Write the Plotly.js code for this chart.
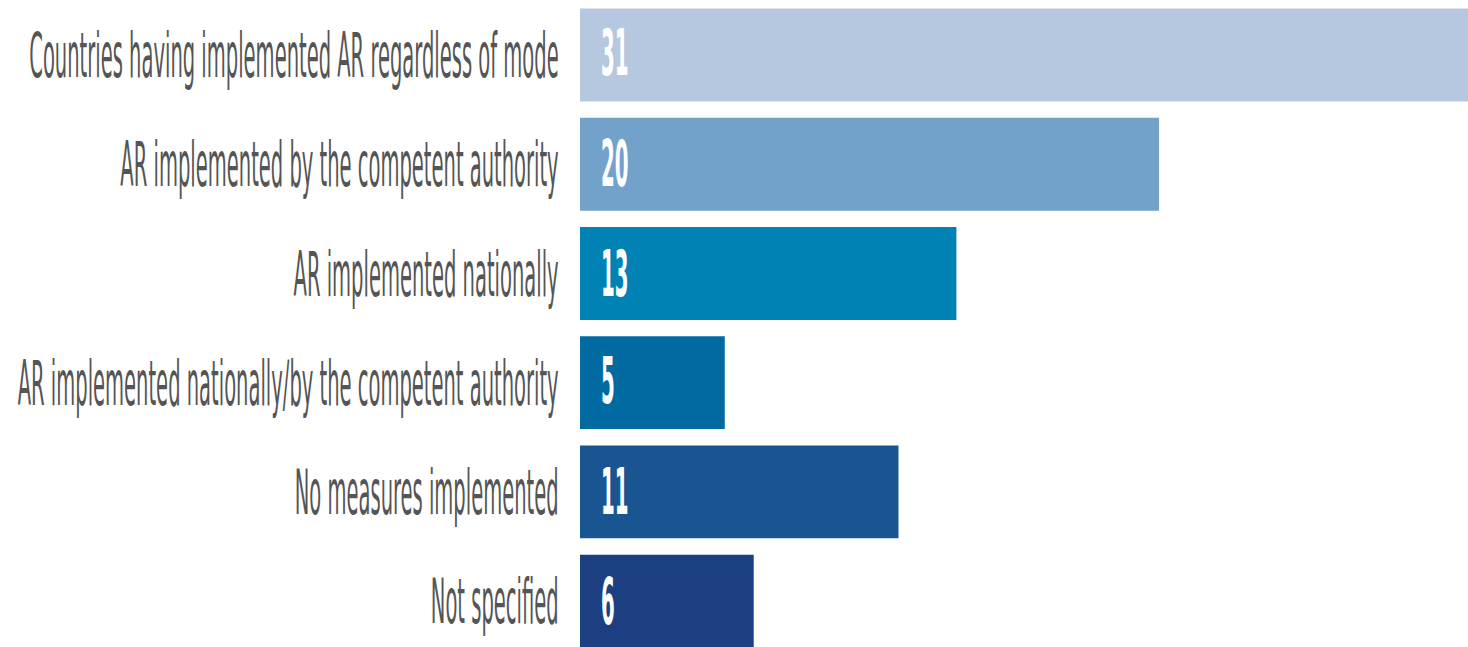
<!DOCTYPE html>
<html>
<head>
<meta charset="utf-8">
<script src="https://cdn.plot.ly/plotly-3.0.1.min.js"></script>
<style>
  html, body { margin: 0; padding: 0; background: #ffffff; overflow: hidden; }
  #wrap { width: 1468px; height: 647px; overflow: hidden; }
  #chart { width: 1468px; height: 223px; transform: scale(1, 2.9013); transform-origin: 0 0; }
</style>
</head>
<body>
<div id="wrap"><div id="chart"></div></div>
<script>
const categories = [
  "Countries having implemented AR regardless of mode",
  "AR implemented by the competent authority",
  "AR implemented nationally",
  "AR implemented nationally/by the competent authority",
  "No measures implemented",
  "Not specified"
];
const values = [31, 20, 13, 5, 11, 6];
const barColors = ["#b6c8e0", "#72a2ca", "#0082b4", "#006aa1", "#195590", "#1b3f80"];

const FONT = "'DejaVu Sans Condensed', 'Liberation Sans Narrow', sans-serif";

const trace = {
  type: "bar",
  orientation: "h",
  y: categories,
  x: values,
  marker: { color: barColors, line: { width: 0 } },
  hoverinfo: "none",
  cliponaxis: true
};

const annotations = categories.map((c, i) => ({
  x: 0, y: c, xref: "x", yref: "y",
  xanchor: "left", yanchor: "middle", xshift: 19,
  text: String(values[i]), showarrow: false,
  font: { family: FONT, size: 22, color: "#ffffff", weight: "bold" }
}));

const layout = {
  width: 1468, height: 223,
  margin: { l: 580, r: 0, t: 0, b: 0, pad: 0 },
  paper_bgcolor: "#ffffff", plot_bgcolor: "#ffffff",
  bargap: 0.15,
  showlegend: false,
  xaxis: { range: [0, 30.67], visible: false, fixedrange: true },
  yaxis: {
    type: "category",
    range: [5.42, -0.504],
    showgrid: false, zeroline: false, showline: false,
    ticks: "outside", ticklen: 16, tickcolor: "rgba(0,0,0,0)",
    tickfont: { family: FONT, size: 21.7, color: "#555555" },
    automargin: false, fixedrange: true
  },
  annotations: annotations
};

Plotly.newPlot("chart", [trace], layout, { displayModeBar: false, staticPlot: true });
</script>
</body>
</html>
